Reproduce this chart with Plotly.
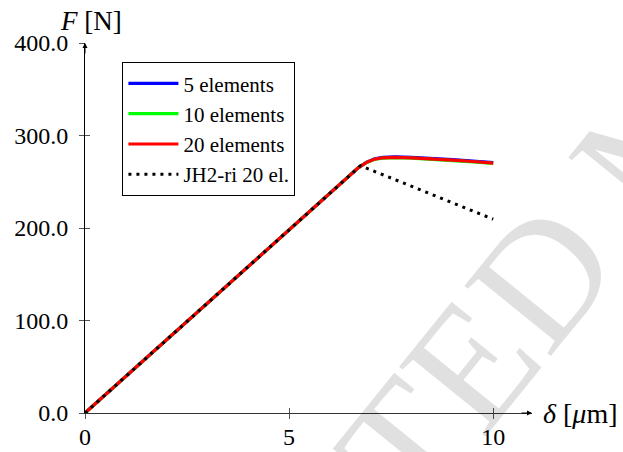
import plotly.graph_objects as go

# Load-displacement data (displacement in micrometres, force in newtons)
delta = [0.0, 1.0, 2.0, 3.0, 4.0, 5.0, 6.0, 6.7, 6.9, 7.1, 7.3, 7.6, 8.0, 8.5, 9.0, 9.5, 10.0]
force_5el = [0.0, 39.6, 79.2, 118.8, 158.4, 198.0, 237.6, 265.3, 271.3, 274.9, 276.3, 276.8, 276.4, 275.5, 274.0, 272.4, 270.6]
force_10el = [0.0, 39.6, 79.2, 118.8, 158.4, 198.0, 237.6, 265.3, 270.8, 274.3, 275.6, 276.0, 275.5, 274.4, 273.0, 271.5, 269.9]
force_20el = [0.0, 39.6, 79.2, 118.8, 158.4, 198.0, 237.6, 265.3, 271.0, 274.5, 275.9, 276.3, 275.9, 274.9, 273.4, 271.9, 270.2]

delta_jh2 = [0.0, 1.0, 2.0, 3.0, 4.0, 5.0, 6.0, 6.75, 10.0]
force_jh2 = [0.0, 39.6, 79.2, 118.8, 158.4, 198.0, 237.6, 267.3, 209.5]

x_ticks = [0, 5, 10]
x_tick_labels = ["0", "5", "10"]
y_ticks = [0, 100, 200, 300, 400]
y_tick_labels = ["0.0", "100.0", "200.0", "300.0", "400.0"]

serif = "Liberation Serif"

fig = go.Figure()

series = [
    ("5 elements", force_5el, "#0000ff"),
    ("10 elements", force_10el, "#00ff00"),
    ("20 elements", force_20el, "#ff0000"),
]
for name, f, color in series:
    fig.add_trace(go.Scatter(
        x=delta, y=f, mode="lines", name=name,
        line=dict(color=color, width=3.2),
        cliponaxis=False,
    ))

fig.add_trace(go.Scatter(
    x=delta_jh2, y=force_jh2, mode="lines", name="JH2-ri 20 el.",
    line=dict(color="black", width=3, dash="3px,5px"),
    cliponaxis=False,
))

# invisible trace that carries the inner half of the crossing tick marks
fig.add_trace(go.Scatter(
    x=delta, y=force_20el, xaxis="x2", yaxis="y2", mode="lines",
    line=dict(width=0), opacity=0, showlegend=False, hoverinfo="skip",
))

x_range = [0, 10.95]
y_range = [0, 400]
tick_color = "#555555"
tick_font = dict(family=serif, size=24, color="black")

fig.update_layout(
    width=623, height=452,
    margin=dict(l=85, r=91, t=43, b=39),
    paper_bgcolor="white", plot_bgcolor="white",
    font=dict(family=serif, size=24, color="black"),
    showlegend=True,
    legend=dict(
        x=0.0837, y=0.948, xanchor="left", yanchor="top",
        bgcolor="white", bordercolor="black", borderwidth=1,
        font=dict(family=serif, size=21, color="black"),
        tracegroupgap=0, itemwidth=50,
        entrywidth=175, entrywidthmode="pixels",
    ),
    xaxis=dict(
        range=x_range, tickmode="array", tickvals=x_ticks, ticktext=x_tick_labels,
        showgrid=False, zeroline=False, showline=True, linecolor="#333333", linewidth=1,
        ticks="outside", ticklen=5, tickcolor=tick_color, tickwidth=1,
        tickfont=tick_font, automargin=False, ticklabelstandoff=-3,
    ),
    yaxis=dict(
        range=y_range, tickmode="array", tickvals=y_ticks, ticktext=y_tick_labels,
        showgrid=False, zeroline=False, showline=True, linecolor="black", linewidth=1,
        ticks="outside", ticklen=5, tickcolor=tick_color, tickwidth=1,
        tickfont=tick_font, automargin=False, ticklabelstandoff=6,
    ),
    xaxis2=dict(
        overlaying="x", matches="x", range=x_range, tickmode="array", tickvals=x_ticks,
        showticklabels=False, showgrid=False, zeroline=False, showline=False,
        ticks="inside", ticklen=5, tickcolor=tick_color, tickwidth=1, side="bottom",
        automargin=False,
    ),
    yaxis2=dict(
        overlaying="y", matches="y", range=y_range, tickmode="array", tickvals=y_ticks,
        showticklabels=False, showgrid=False, zeroline=False, showline=False,
        ticks="inside", ticklen=5, tickcolor=tick_color, tickwidth=1, side="left",
        automargin=False,
    ),
)

# axis arrowheads
fig.add_annotation(x=x_range[1], y=0, xref="x", yref="y", ax=-12, ay=0, text="",
                   showarrow=True, arrowhead=2, arrowsize=1, arrowwidth=1, arrowcolor="black")
fig.add_annotation(x=0, y=y_range[1], xref="x", yref="y", ax=0, ay=12, text="",
                   showarrow=True, arrowhead=2, arrowsize=1, arrowwidth=1, arrowcolor="black")

# axis titles at the arrow tips
fig.add_annotation(x=-0.06, y=1.059, xref="paper", yref="paper", xanchor="left", yanchor="middle",
                   text="<i>F</i> [N]", showarrow=False, font=dict(family=serif, size=27))
fig.add_annotation(x=1.02, y=0, xref="paper", yref="y", xanchor="left", yanchor="middle",
                   text="<i>δ</i> [<i>μ</i>m]", showarrow=False, font=dict(family=serif, size=28))

# faint diagonal watermark
fig.add_annotation(x=1.293, y=0.773, xref="paper", yref="paper", xanchor="center", yanchor="middle",
                   text="ACCEPTED MANUSCRIPT", showarrow=False, textangle=-51,
                   font=dict(family=serif, size=170, color="rgba(0,0,0,0.12)"))

fig.write_html("out.html")
